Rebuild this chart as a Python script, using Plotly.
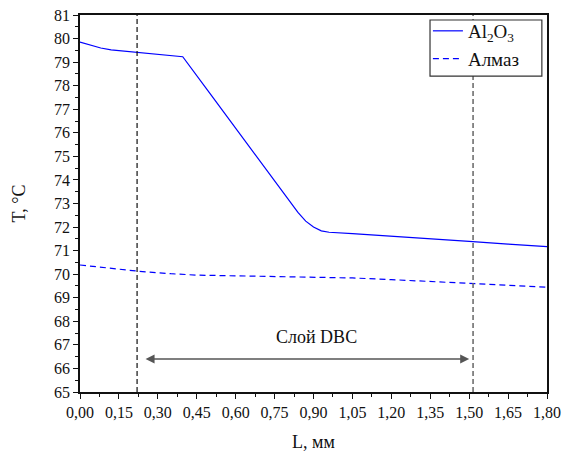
import plotly.graph_objects as go

# Data
L_al2o3 = [0.00, 0.04, 0.08, 0.12, 0.22, 0.30, 0.396, 0.50, 0.60, 0.70, 0.80, 0.84, 0.87, 0.90, 0.93, 0.96, 1.05, 1.20, 1.35, 1.50, 1.65, 1.80]
T_al2o3 = [79.85, 79.72, 79.60, 79.52, 79.41, 79.33, 79.23, 77.68, 76.18, 74.69, 73.19, 72.62, 72.25, 72.00, 71.84, 71.78, 71.72, 71.62, 71.50, 71.39, 71.28, 71.17]

L_almaz = [0.00, 0.11, 0.22, 0.35, 0.45, 0.60, 0.75, 0.90, 1.05, 1.20, 1.35, 1.50, 1.65, 1.80]
T_almaz = [70.39, 70.25, 70.13, 70.02, 69.96, 69.93, 69.91, 69.89, 69.84, 69.77, 69.69, 69.62, 69.54, 69.45]

names = ["Al<sub>2</sub>O<sub>3</sub>", "Алмаз"]
layer_bounds = [0.22, 1.515]
arrow_span = [0.247, 1.50]
arrow_T = 66.4
layer_label = "Слой DBC"
label_pos = [0.913, 67.32]

x_ticks = [round(0.15 * i, 2) for i in range(13)]
y_ticks = list(range(65, 82))

FONT = "Liberation Serif, Times New Roman, serif"

fig = go.Figure()
fig.add_trace(go.Scatter(x=L_al2o3, y=T_al2o3, mode="lines", name=names[0],
                         line=dict(color="#0000FF", width=1.2)))
fig.add_trace(go.Scatter(x=L_almaz, y=T_almaz, mode="lines", name=names[1],
                         line=dict(color="#0000FF", width=1.2, dash="6px,4px")))

fig.add_shape(type="line", x0=layer_bounds[0], x1=layer_bounds[0], y0=0, y1=1,
              xref="x", yref="paper", line=dict(color="#111111", width=1.2, dash="5px,3px"))
fig.add_shape(type="line", x0=layer_bounds[1], x1=layer_bounds[1], y0=0, y1=1,
              xref="x", yref="paper", line=dict(color="#666666", width=1.5, dash="5px,3px"))
# legend frame
fig.add_shape(type="rect", xref="paper", yref="paper", x0=0.7495, x1=0.989, y0=0.838, y1=0.9867,
              layer="above", fillcolor="white", line=dict(color="#333333", width=1.2))

fig.add_annotation(x=arrow_span[1], y=arrow_T, ax=arrow_span[0], ay=arrow_T,
                   xref="x", yref="y", axref="x", ayref="y",
                   showarrow=True, arrowhead=2, arrowside="end+start", arrowsize=1.2,
                   arrowwidth=1.5, arrowcolor="#555555", text="")
fig.add_annotation(x=label_pos[0], y=label_pos[1], xref="x", yref="y", text=layer_label,
                   showarrow=False, font=dict(family=FONT, size=18, color="#111111"))

fig.update_layout(
    width=568, height=453,
    margin=dict(l=80, r=21, t=15, b=61),
    paper_bgcolor="white", plot_bgcolor="white",
    separators=", ",
    font=dict(family=FONT, size=16, color="#111111"),
    showlegend=True,
    legend=dict(x=0.745, y=1.008, xanchor="left", yanchor="top",
                borderwidth=0, bgcolor="rgba(0,0,0,0)",
                font=dict(family=FONT, size=19), tracegroupgap=0),
)
fig.update_xaxes(range=[0, 1.8], tickvals=x_ticks, tickformat=".2f", automargin=False,
                 ticks="outside", ticklen=5, tickwidth=1.2, tickcolor="#111111",
                 minor=dict(dtick=0.075, ticks="outside", ticklen=3, tickcolor="#111111"),
                 showline=True, linecolor="#111111", linewidth=1.5, mirror=True,
                 showgrid=False, zeroline=False,
                 title=dict(text="L, мм", font=dict(family=FONT, size=18), standoff=15),
                 tickfont=dict(family=FONT, size=16))
fig.update_yaxes(range=[65, 81], tickvals=y_ticks, automargin=False,
                 ticks="outside", ticklen=5, tickwidth=1.2, tickcolor="#111111",
                 minor=dict(dtick=0.5, ticks="outside", ticklen=3, tickcolor="#111111"),
                 showline=True, linecolor="#111111", linewidth=1.5, mirror=True,
                 showgrid=False, zeroline=False,
                 title=dict(text="T, °C", font=dict(family=FONT, size=18), standoff=24),
                 tickfont=dict(family=FONT, size=16))

fig.write_html("out.html", config={"displayModeBar": False},
               post_script="document.body.style.margin='0';document.body.style.overflow='hidden';")
